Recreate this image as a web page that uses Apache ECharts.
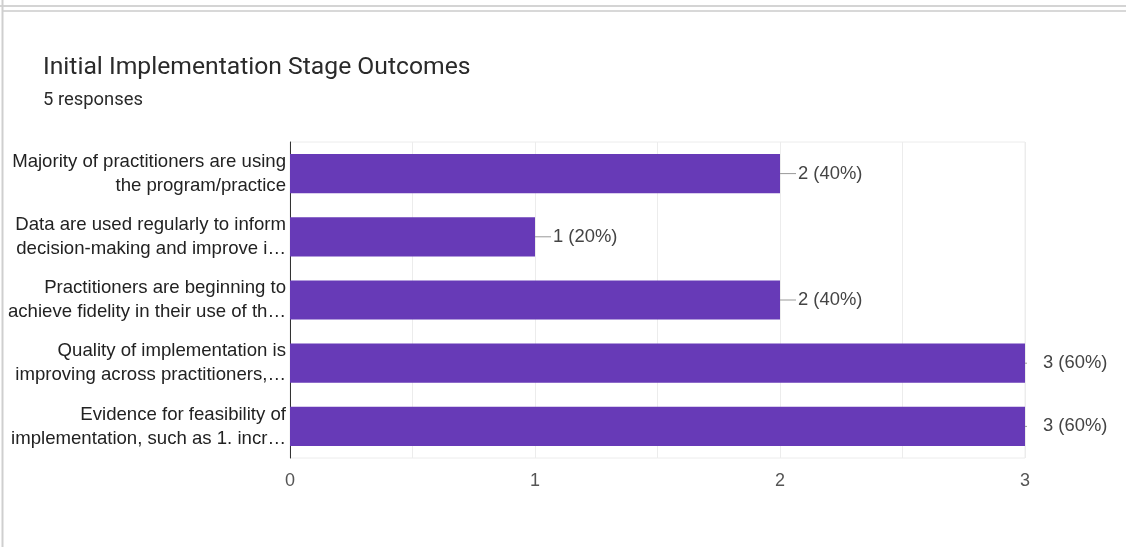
<!DOCTYPE html>
<html>
<head>
<meta charset="utf-8">
<style>
  html, body { margin: 0; padding: 0; background: #fff; }
  #chart { width: 1126px; height: 547px; }
</style>
<script src="https://cdn.jsdelivr.net/npm/echarts@6/dist/echarts.min.js"></script>
</head>
<body>
<div id="chart"></div>
<script>
// Survey question and answer counts
const chartTitle = 'Initial Implementation Stage Outcomes';
const responseCount = 5;
const categories = [
  'Majority of practitioners are using\nthe program/practice',
  'Data are used regularly to inform\ndecision-making and improve i\u2026',
  'Practitioners are beginning to\nachieve fidelity in their use of th\u2026',
  'Quality of implementation is\nimproving across practitioners,\u2026',
  'Evidence for feasibility of\nimplementation, such as 1. incr\u2026'
];
const counts = [2, 1, 2, 3, 3];
const axisTicks = [0, 1, 2, 3];

const chart = echarts.init(document.getElementById('chart'), null, { renderer: 'canvas' });

const BAR = '#673ab7';
const LABEL_FONT = 'Arial, "Liberation Sans", sans-serif';

const option = {
  animation: false,
  backgroundColor: '#ffffff',
  title: [
    {
      text: chartTitle,
      left: 43, top: 55, padding: 0,
      textStyle: { fontFamily: 'Roboto', fontSize: 24.7, fontWeight: 'normal', color: '#2a2a2a' }
    },
    {
      text: responseCount + ' responses',
      left: 43, top: 91, padding: 0,
      textStyle: { fontFamily: 'Roboto', fontSize: 18.4, fontWeight: 'normal', color: '#2a2a2a' }
    }
  ],
  graphic: [
    { type: 'line', shape: { x1: 0, y1: 6, x2: 1126, y2: 6 }, style: { stroke: '#d4d4d4', lineWidth: 2 }, silent: true },
    { type: 'line', shape: { x1: 2, y1: 11, x2: 1126, y2: 11 }, style: { stroke: '#d8d8d8', lineWidth: 2 }, silent: true },
    { type: 'line', shape: { x1: 2.5, y1: 0, x2: 2.5, y2: 547 }, style: { stroke: '#cfcfcf', lineWidth: 2 }, silent: true }
  ],
  grid: {
    left: 290, right: 101, top: 142, bottom: 89, containLabel: false,
    show: true, borderColor: '#ececec', borderWidth: 1
  },
  xAxis: {
    type: 'value',
    min: axisTicks[0],
    max: axisTicks[axisTicks.length - 1],
    interval: 0.5,
    axisLine: { show: false },
    axisTick: { show: false },
    splitLine: { show: true, lineStyle: { color: '#ececec', width: 1 } },
    axisLabel: {
      margin: 14,
      fontFamily: LABEL_FONT, fontSize: 18, color: '#555',
      formatter: v => (axisTicks.indexOf(v) >= 0 ? String(v) : '')
    }
  },
  yAxis: {
    type: 'category',
    inverse: true,
    data: categories,
    axisLine: { show: true, lineStyle: { color: '#333', width: 1 } },
    axisTick: { show: false },
    axisLabel: {
      margin: 4,
      fontFamily: LABEL_FONT, fontSize: 18.6, color: '#222',
      lineHeight: 24, align: 'right'
    }
  },
  series: [
    {
      type: 'bar',
      data: counts,
      barCategoryGap: '38%',
      itemStyle: { color: BAR },
      label: {
        show: true,
        position: 'right',
        distance: 18,
        fontFamily: LABEL_FONT, fontSize: 18.4, color: '#444',
        formatter: p => p.value + ' (' + Math.round(p.value / responseCount * 100) + '%)'
      },
      z: 3
    },
    {
      // leader lines between each bar end and its value label
      type: 'custom',
      data: counts.map((v, i) => [v, i]),
      encode: { x: 0, y: 1 },
      z: 4,
      silent: true,
      renderItem: (params, api) => {
        const p = api.coord([api.value(0), api.value(1)]);
        const right = params.coordSys.x + params.coordSys.width + 2;
        const x2 = Math.min(p[0] + 16, right);
        return {
          type: 'line',
          shape: { x1: p[0], y1: p[1], x2: x2, y2: p[1] },
          style: { stroke: '#999', lineWidth: 1 }
        };
      }
    }
  ]
};

chart.setOption(option);
</script>
</body>
</html>
